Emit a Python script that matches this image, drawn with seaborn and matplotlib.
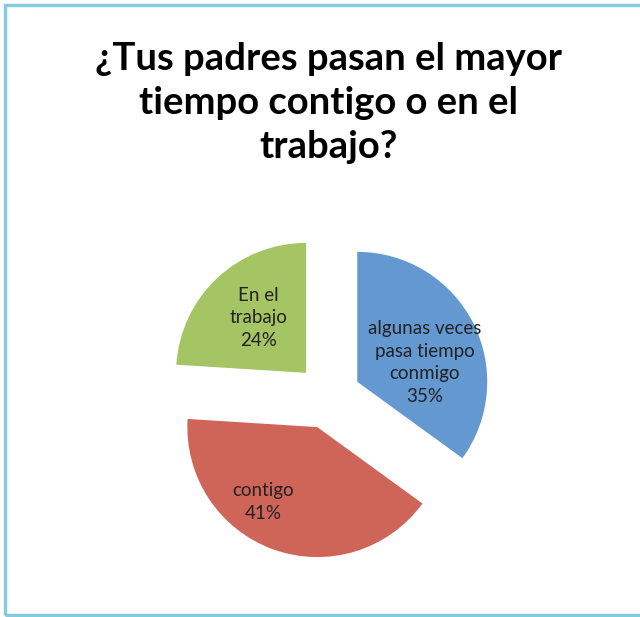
import matplotlib
matplotlib.use("Agg")
import matplotlib.pyplot as plt
import seaborn as sns
import numpy as np
from matplotlib.patches import Rectangle

sns.set_theme(style="white")
plt.rcParams['font.family'] = ['Lato', 'DejaVu Sans']

# datos
categorias = ["algunas veces\npasa tiempo\nconmigo", "contigo", "En el\ntrabajo"]
porcentajes = [35, 41, 24]
colores = ["#6398D0", "#CF6458", "#A5C463"]
titulo = "¿Tus padres pasan el mayor\ntiempo contigo o en el\ntrabajo?"

# posición de la etiqueta dentro de cada porción (ángulo, distancia)
etiqueta_ang = [16, -126, 131]
etiqueta_dist = [0.54, 0.71, 0.56]

fig = plt.figure(figsize=(6.4, 6.17), dpi=100)
fig.patch.set_facecolor("white")

# marco azul claro
fig.patches.append(Rectangle((0.008, 0.004), 1.2, 0.988, transform=fig.transFigure,
                             fill=False, edgecolor="#86CADD", linewidth=2.5))

ax = fig.add_axes([0.188, 0.0203, 0.65, 0.674])
wedges, _ = ax.pie(porcentajes, colors=colores, startangle=90, counterclock=False,
                   explode=[0.25] * 3, wedgeprops=dict(linewidth=0))
L = 1.6
ax.set_xlim(-L, L)
ax.set_ylim(-L, L)
ax.axis("off")

for w, cat, p, a, d in zip(wedges, categorias, porcentajes, etiqueta_ang, etiqueta_dist):
    cx, cy = w.center
    x = cx + d * np.cos(np.radians(a))
    y = cy + d * np.sin(np.radians(a))
    ax.text(x, y, f"{cat}\n{p}%", ha="center", va="center", fontsize=13.5,
            color="#222222", linespacing=1.42)

fig.text(0.513, 0.833, titulo, ha="center", va="center", fontsize=27.5,
         fontweight="bold", color="black", linespacing=1.36)

fig.savefig("out.png", dpi=100)
